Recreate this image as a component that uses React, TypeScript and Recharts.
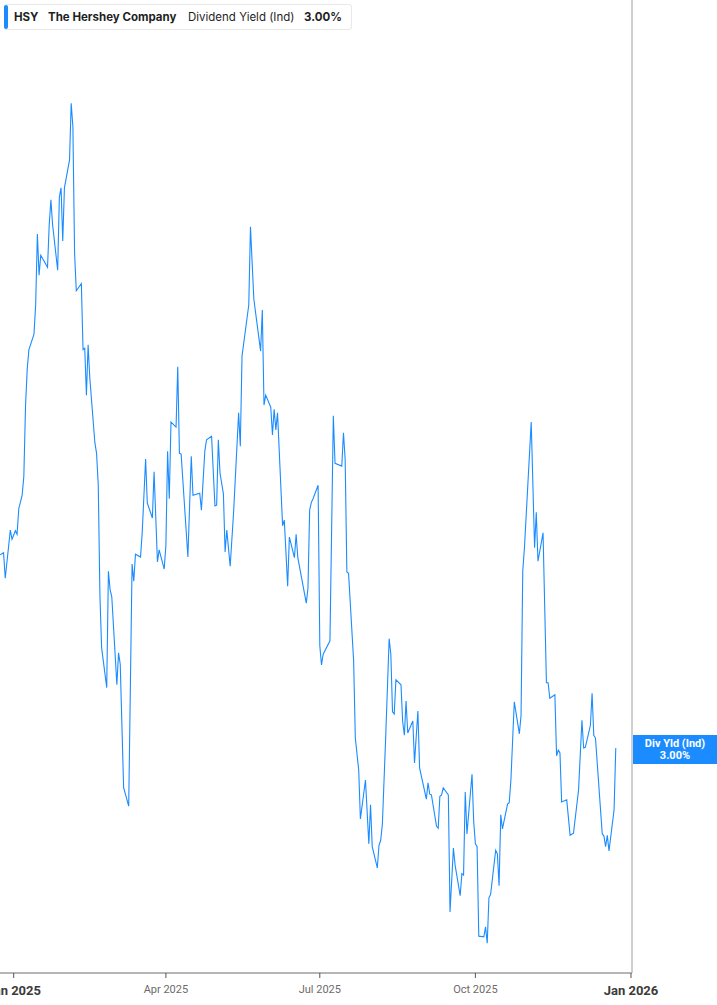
import React from 'react';
import { LineChart, Line, XAxis, YAxis } from 'recharts';

const dates = [
  '2024-12-24', '2024-12-26', '2024-12-27', '2024-12-30', '2024-12-31',
  '2025-01-02', '2025-01-03', '2025-01-04', '2025-01-06', '2025-01-07', '2025-01-08', '2025-01-09', '2025-01-10',
  '2025-01-13', '2025-01-14', '2025-01-15', '2025-01-16', '2025-01-17', '2025-01-21', '2025-01-22', '2025-01-23',
  '2025-01-24', '2025-01-27', '2025-01-28', '2025-01-29', '2025-01-30', '2025-01-31',
  '2025-02-03', '2025-02-04', '2025-02-05', '2025-02-06', '2025-02-07', '2025-02-10', '2025-02-11', '2025-02-12',
  '2025-02-13', '2025-02-14', '2025-02-15', '2025-02-18', '2025-02-19', '2025-02-20', '2025-02-21', '2025-02-22',
  '2025-02-25', '2025-02-26', '2025-02-27', '2025-02-28',
  '2025-03-03', '2025-03-04', '2025-03-05', '2025-03-07', '2025-03-10', '2025-03-12', '2025-03-13', '2025-03-14',
  '2025-03-17', '2025-03-18', '2025-03-20', '2025-03-21', '2025-03-23', '2025-03-24', '2025-03-25', '2025-03-27',
  '2025-03-28', '2025-03-31',
  '2025-04-01', '2025-04-02', '2025-04-03', '2025-04-04', '2025-04-07', '2025-04-08', '2025-04-09', '2025-04-10',
  '2025-04-14', '2025-04-16', '2025-04-17', '2025-04-21', '2025-04-22', '2025-04-24', '2025-04-25', '2025-04-28',
  '2025-04-30',
  '2025-05-01', '2025-05-02', '2025-05-03', '2025-05-05', '2025-05-06', '2025-05-07', '2025-05-09', '2025-05-11',
  '2025-05-14', '2025-05-15', '2025-05-16', '2025-05-19', '2025-05-20', '2025-05-21', '2025-05-23', '2025-05-27',
  '2025-05-28', '2025-05-29', '2025-05-30',
  '2025-06-02', '2025-06-03', '2025-06-04', '2025-06-05', '2025-06-06', '2025-06-09', '2025-06-10', '2025-06-12',
  '2025-06-13', '2025-06-16', '2025-06-17', '2025-06-18', '2025-06-23', '2025-06-24', '2025-06-25', '2025-06-26',
  '2025-06-27', '2025-06-30',
  '2025-07-01', '2025-07-02', '2025-07-03', '2025-07-07', '2025-07-09', '2025-07-10', '2025-07-14', '2025-07-15',
  '2025-07-16', '2025-07-17', '2025-07-18', '2025-07-21', '2025-07-22', '2025-07-24', '2025-07-25', '2025-07-28',
  '2025-07-30', '2025-07-31',
  '2025-08-01', '2025-08-04', '2025-08-05', '2025-08-06', '2025-08-07', '2025-08-09', '2025-08-11', '2025-08-12',
  '2025-08-13', '2025-08-14', '2025-08-15', '2025-08-18', '2025-08-19', '2025-08-20', '2025-08-21', '2025-08-22',
  '2025-08-25', '2025-08-26', '2025-08-28', '2025-08-29',
  '2025-09-02', '2025-09-03', '2025-09-04', '2025-09-05', '2025-09-08', '2025-09-09', '2025-09-10', '2025-09-11',
  '2025-09-12', '2025-09-15', '2025-09-16', '2025-09-18', '2025-09-19', '2025-09-22', '2025-09-23', '2025-09-24',
  '2025-09-25', '2025-09-26', '2025-09-29', '2025-09-30',
  '2025-10-01', '2025-10-02', '2025-10-03', '2025-10-06', '2025-10-07', '2025-10-08', '2025-10-09', '2025-10-10',
  '2025-10-13', '2025-10-14', '2025-10-15', '2025-10-16', '2025-10-17', '2025-10-20', '2025-10-21', '2025-10-22',
  '2025-10-24', '2025-10-27', '2025-10-28', '2025-10-29', '2025-10-30',
  '2025-11-03', '2025-11-05', '2025-11-06', '2025-11-07', '2025-11-10', '2025-11-12', '2025-11-13', '2025-11-14',
  '2025-11-17', '2025-11-18', '2025-11-19', '2025-11-20', '2025-11-21', '2025-11-24', '2025-11-26', '2025-11-28',
  '2025-12-01', '2025-12-03', '2025-12-04', '2025-12-05', '2025-12-08', '2025-12-09', '2025-12-10', '2025-12-11',
  '2025-12-15', '2025-12-16', '2025-12-17', '2025-12-18', '2025-12-19', '2025-12-22', '2025-12-23',
];

const dividendYield = [
  3.272, 3.275, 3.239, 3.307, 3.294,
  3.306, 3.301, 3.337, 3.356, 3.383, 3.482, 3.534, 3.561,
  3.583, 3.625, 3.724, 3.666, 3.694, 3.677, 3.737, 3.772,
  3.737, 3.673, 3.776, 3.789, 3.714, 3.789,
  3.828, 3.908, 3.875, 3.697, 3.644, 3.654, 3.561, 3.563,
  3.497, 3.568, 3.521, 3.430, 3.415, 3.370, 3.213, 3.141,
  3.085, 3.249, 3.223, 3.213,
  3.089, 3.134, 3.118, 2.944, 2.918, 3.259, 3.235, 3.273,
  3.269, 3.304, 3.407, 3.345, 3.331, 3.324, 3.389, 3.262,
  3.279, 3.252,
  3.286, 3.418, 3.351, 3.459, 3.452, 3.537, 3.415, 3.414,
  3.269, 3.411, 3.356, 3.359, 3.335, 3.418, 3.434, 3.439,
  3.341,
  3.342, 3.434, 3.387, 3.358, 3.276, 3.307, 3.256, 3.331,
  3.472, 3.425, 3.552, 3.606, 3.624, 3.734, 3.632, 3.559,
  3.617, 3.483, 3.497,
  3.480, 3.441, 3.477, 3.448, 3.472, 3.313, 3.321, 3.228,
  3.297, 3.268, 3.301, 3.268, 3.204, 3.225, 3.335, 3.346,
  3.351, 3.370,
  3.144, 3.117, 3.132, 3.151, 3.468, 3.401, 3.397, 3.444,
  3.406, 3.248, 3.246, 3.123, 3.014, 2.969, 2.900, 2.955,
  2.865, 2.920,
  2.861, 2.831, 2.863, 2.870, 2.893, 3.018, 3.154, 3.132,
  3.051, 3.048, 3.096, 3.089, 3.037, 3.018, 3.066, 3.021,
  3.038, 2.979, 3.052, 2.972,
  2.928, 2.951, 2.935, 2.934, 2.890, 2.887, 2.932, 2.934,
  2.944, 2.934, 2.769, 2.859, 2.835, 2.792, 2.823, 2.821,
  2.938, 2.879, 2.963, 2.896,
  2.865, 2.861, 2.735, 2.734, 2.748, 2.725, 2.789, 2.794,
  2.856, 2.851, 2.806, 2.906, 2.886, 2.921, 2.923, 2.955,
  3.065, 3.020, 3.046, 3.249, 3.282,
  3.459, 3.282, 3.332, 3.263, 3.303, 3.092, 3.092, 3.070,
  3.075, 2.989, 2.997, 2.993, 2.924, 2.927, 2.877, 2.880,
  2.941, 3.039, 3.000, 3.001, 3.032, 3.077, 3.018, 3.014,
  2.879, 2.876, 2.861, 2.877, 2.855, 2.913, 3.000,
];

const xTickDates = ['2025-01-01', '2025-04-01', '2025-07-01', '2025-10-01', '2026-01-01'];
const xTickLabels = ['Jan 2025', 'Apr 2025', 'Jul 2025', 'Oct 2025', 'Jan 2026'];
const yearTickLabels = ['Jan 2025', 'Jan 2026'];

const ticker = 'HSY';
const companyName = 'The Hershey Company';
const seriesName = 'Dividend Yield (Ind)';
const seriesShort = 'Div Yld (Ind)';
const lastValueLabel = '3.00%';

const BLUE = '#1b8cff';
const DAY = 86400000;
const BASE = Date.UTC(2025, 0, 1);
const toDay = (s: string) => {
  const [y, m, d] = s.split('-').map(Number);
  return (Date.UTC(y, m - 1, d) - BASE) / DAY;
};

const data = dates.map((d, i) => ({ day: toDay(d), value: dividendYield[i] }));
const xTicks = xTickDates.map(toDay);
const lastValue = dividendYield[dividendYield.length - 1];

const XTick = (props: any) => {
  const { x, y, payload } = props;
  const idx = xTicks.indexOf(payload.value);
  const label = xTickLabels[idx] ?? '';
  const isYear = yearTickLabels.includes(label);
  return (
    <text
      x={x}
      y={isYear ? y + 15 : y + 13}
      textAnchor="middle"
      fontFamily="Roboto, 'Liberation Sans', sans-serif"
      fontSize={isYear ? 13 : 11}
      fontWeight={isYear ? 700 : 400}
      fill={isYear ? '#3a3a3a' : '#6b6b6b'}
    >
      {label}
    </text>
  );
};

const YTick = (props: any) => {
  const { y } = props;
  return (
    <g>
      <rect x={633} y={y - 13} width={84} height={29} fill={BLUE} />
      <text x={675} y={y - 0.5} textAnchor="middle" fontFamily="Roboto, sans-serif" fontSize={11} fontWeight={700} fill="#ffffff">
        {seriesShort}
      </text>
      <text x={675} y={y + 11} textAnchor="middle" fontFamily="Roboto, sans-serif" fontSize={11} fontWeight={700} fill="#ffffff">
        {lastValueLabel}
      </text>
    </g>
  );
};

const Legend = () => (
  <div
    style={{
      position: 'absolute',
      left: 4,
      top: 4,
      width: 348,
      height: 26,
      boxSizing: 'border-box',
      border: '1px solid #e8e8e8',
      borderRadius: 3,
      background: '#ffffff',
      fontFamily: 'Inter, Roboto, sans-serif',
      fontSize: 11.5,
      color: '#1f1f1f',
      lineHeight: '24px',
      whiteSpace: 'nowrap',
    }}
  >
    <div style={{ position: 'absolute', left: -1, top: 0, width: 4, height: 24, background: BLUE, borderRadius: 2 }} />
    <span style={{ position: 'absolute', left: 9, fontWeight: 700 }}>{ticker}</span>
    <span style={{ position: 'absolute', left: 43, fontWeight: 700 }}>{companyName}</span>
    <span style={{ position: 'absolute', left: 183, fontWeight: 400 }}>{seriesName}</span>
    <span style={{ position: 'absolute', left: 299, fontWeight: 700 }}>{lastValueLabel}</span>
  </div>
);

export default function App() {
  return (
    <div style={{ position: 'absolute', left: 0, top: 0, width: 717, height: 1005, background: '#ffffff', overflow: 'hidden' }}>
      <LineChart width={717} height={1005} data={data} margin={{ top: 0, right: 0, left: 0, bottom: 0 }}>
        <XAxis
          dataKey="day"
          type="number"
          domain={[-8.1, 365.6]}
          ticks={xTicks}
          interval={0}
          height={32}
          tick={<XTick />}
          tickSize={5}
          tickMargin={2}
          axisLine={{ stroke: '#b5b5b5', strokeWidth: 2 }}
          tickLine={{ stroke: '#555555' }}
          allowDataOverflow
        />
        <YAxis
          yAxisId="r"
          orientation="right"
          type="number"
          domain={[2.6831, 4.0535]}
          ticks={[lastValue]}
          interval={0}
          width={85}
          tick={<YTick />}
          tickLine={false}
          axisLine={{ stroke: '#a0a0a0' }}
          allowDataOverflow
        />
        <Line
          yAxisId="r"
          type="linear"
          dataKey="value"
          stroke={BLUE}
          strokeWidth={1.1}
          dot={false}
          activeDot={false}
          isAnimationActive={false}
        />
      </LineChart>
      <Legend />
    </div>
  );
}
